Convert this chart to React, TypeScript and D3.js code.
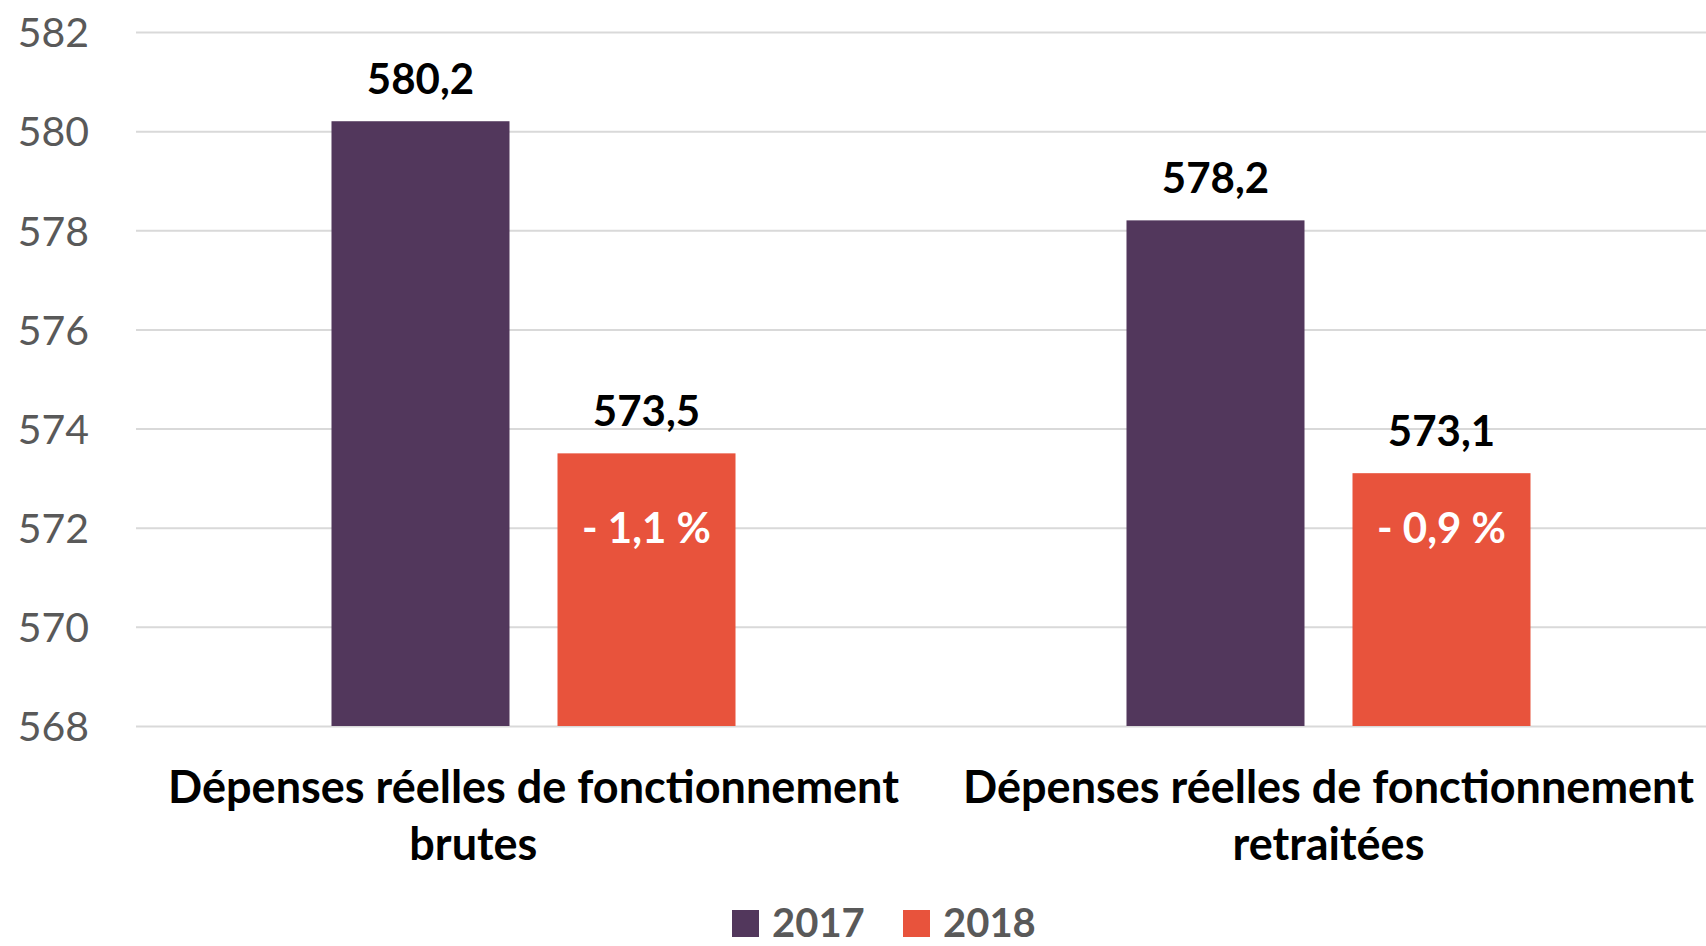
import * as d3 from "d3";
import { useEffect, useRef } from "react";

const categories = ["brutes", "retraitées"];
const categoryLines = [
  ["Dépenses réelles de fonctionnement", "brutes\u00a0\u00a0\u00a0\u00a0\u00a0\u00a0\u00a0\u00a0\u00a0\u00a0\u00a0"],
  ["Dépenses réelles de fonctionnement", "retraitées"],
];
const series = ["2017", "2018"];
const values2017 = [580.2, 578.2];
const values2018 = [573.5, 573.1];
const changeLabels = ["- 1,1 %", "- 0,9 %"];
const yTicks = [568, 570, 572, 574, 576, 578, 580, 582];

const colors: Record<string, string> = { "2017": "#52375C", "2018": "#E8533C" };
const FONT = "Lato, 'Open Sans', sans-serif";
const W = 1706;
const H = 946;

export default function App() {
  const ref = useRef<SVGSVGElement>(null);

  useEffect(() => {
    document.body.style.margin = "0";
    const svg = d3.select(ref.current);
    svg.selectAll("*").remove();

    const y = d3.scaleLinear().domain([568, 582]).range([726, 32]);
    const x0 = d3.scaleBand<string>().domain(categories).range([136, 1726]);
    const x1 = d3
      .scaleBand<string>()
      .domain(series)
      .range([0, x0.bandwidth()])
      .paddingInner(0.2124)
      .paddingOuter(0.865);

    // gridlines + tick labels
    const axis = d3
      .axisLeft(y)
      .tickValues(yTicks)
      .tickSize(-(W - 136))
      .tickPadding(47)
      .tickFormat((d) => String(d));
    const ga = svg.append("g").attr("transform", "translate(136,0)").call(axis);
    ga.select(".domain").remove();
    ga.selectAll(".tick line").attr("stroke", "#D9D9D9").attr("stroke-width", 2);
    ga.selectAll(".tick text")
      .attr("fill", "#595959")
      .attr("font-family", FONT)
      .attr("font-size", 41)
      .attr("dy", "0.36em");

    const rows = categories.map((c, i) => ({
      cat: c,
      vals: [
        { s: "2017", v: values2017[i] },
        { s: "2018", v: values2018[i] },
      ],
    }));

    const g = svg
      .selectAll("g.grp")
      .data(rows)
      .enter()
      .append("g")
      .attr("class", "grp")
      .attr("transform", (d) => `translate(${x0(d.cat)},0)`);

    g.selectAll("rect")
      .data((d) => d.vals)
      .enter()
      .append("rect")
      .attr("x", (d) => x1(d.s)!)
      .attr("width", x1.bandwidth())
      .attr("y", (d) => y(d.v))
      .attr("height", (d) => y(568) - y(d.v))
      .attr("fill", (d) => colors[d.s]);

    g.selectAll("text.val")
      .data((d) => d.vals)
      .enter()
      .append("text")
      .attr("class", "val")
      .attr("x", (d) => x1(d.s)! + x1.bandwidth() / 2)
      .attr("y", (d) => y(d.v) - 27)
      .attr("text-anchor", "middle")
      .attr("font-family", FONT)
      .attr("font-weight", "bold")
      .attr("font-size", 42)
      .attr("fill", "#000")
      .text((d) => d.v.toFixed(1).replace(".", ","));

    g.append("text")
      .attr("x", x1("2018")! + x1.bandwidth() / 2)
      .attr("y", y(572) + 15)
      .attr("text-anchor", "middle")
      .attr("font-family", FONT)
      .attr("font-weight", "bold")
      .attr("font-size", 42)
      .attr("fill", "#fff")
      .text((_, i) => changeLabels[i]);

    // category labels
    const cl = g
      .append("text")
      .attr("text-anchor", "middle")
      .attr("font-family", FONT)
      .attr("font-weight", "bold")
      .attr("font-size", 45)
      .attr("fill", "#000")
      .attr("xml:space", "preserve");
    cl.selectAll("tspan")
      .data((_, i) => categoryLines[i])
      .enter()
      .append("tspan")
      .attr("x", x0.bandwidth() / 2)
      .attr("y", (_, j) => 803 + j * 57)
      .text((d) => d);

    // legend
    const legendX = d3.scaleOrdinal<string, number>().domain(series).range([732, 903]);
    const lg = svg
      .selectAll("g.leg")
      .data(series)
      .enter()
      .append("g")
      .attr("transform", (d) => `translate(${legendX(d)},910)`);
    lg.append("rect").attr("width", 27).attr("height", 27).attr("fill", (d) => colors[d]);
    lg.append("text")
      .attr("x", 40)
      .attr("y", 27)
      .attr("font-family", FONT)
      .attr("font-weight", "bold")
      .attr("font-size", 40)
      .attr("fill", "#595959")
      .text((d) => d);
  }, []);

  return <svg ref={ref} width={W} height={H} style={{ display: "block" }} />;
}
